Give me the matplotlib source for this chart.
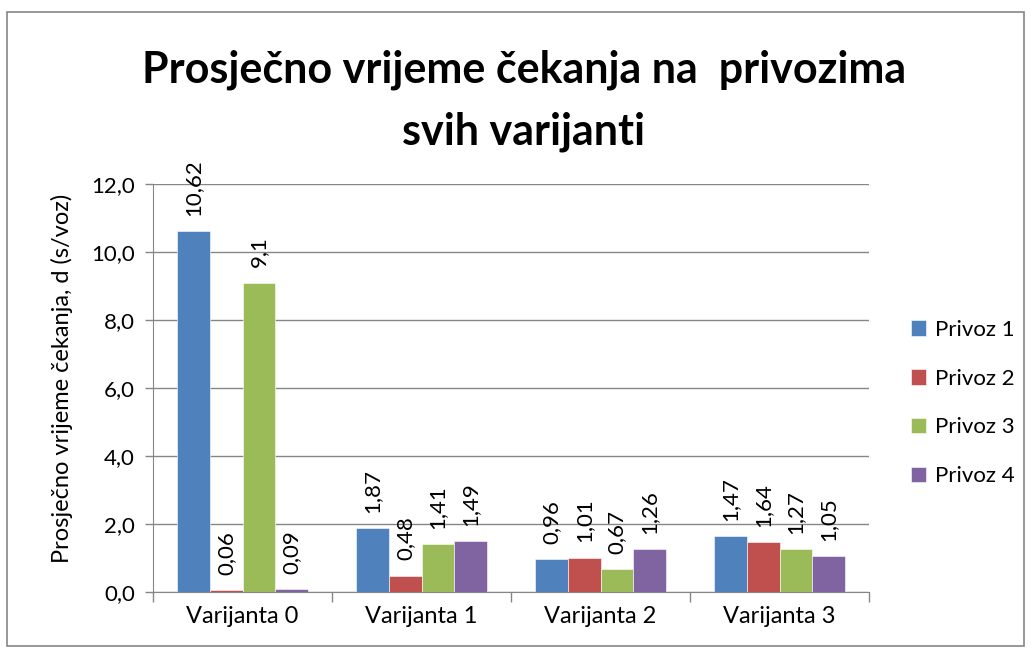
import numpy as np
import matplotlib.pyplot as plt
from matplotlib.patches import Rectangle

plt.rcParams['font.family'] = ['Lato', 'DejaVu Sans']

varijante = ['Varijanta 0', 'Varijanta 1', 'Varijanta 2', 'Varijanta 3']
privozi = ['Privoz 1', 'Privoz 2', 'Privoz 3', 'Privoz 4']
boje = ['#4F81BD', '#C0504D', '#9BBB59', '#8064A2']

# visine stupaca (ocitano sa slike)
privoz1 = [10.62, 1.87, 0.96, 1.64]
privoz2 = [0.06, 0.48, 1.01, 1.47]
privoz3 = [9.1, 1.41, 0.67, 1.27]
privoz4 = [0.09, 1.49, 1.26, 1.05]

# oznake podataka kako pisu na slici
oznake1 = ['10,62', '1,87', '0,96', '1,47']
oznake2 = ['0,06', '0,48', '1,01', '1,64']
oznake3 = ['9,1', '1,41', '0,67', '1,27']
oznake4 = ['0,09', '1,49', '1,26', '1,05']

serije = [privoz1, privoz2, privoz3, privoz4]
oznake = [oznake1, oznake2, oznake3, oznake4]

fig = plt.figure(figsize=(10.31, 6.49), dpi=100)
ax = fig.add_axes([153/1031, 1 - 592/649, (869 - 153)/1031, (592 - 184)/649])

x = np.arange(len(varijante))
w = 1 / 5.5
for i, (vals, labs) in enumerate(zip(serije, oznake)):
    pos = x + (i - 1.5) * w
    ax.bar(pos, vals, w, color=boje[i], label=privozi[i], zorder=3,
           edgecolor='white', linewidth=0.4)
    for px, v, t in zip(pos, vals, labs):
        ax.annotate(t, (px, v), xytext=(0, 11), textcoords='offset points',
                    rotation=90, ha='center', va='bottom', fontsize=16)

grey = '#868686'
ax.set_ylim(0, 12)
ax.set_xlim(-0.5, 3.5)
ax.set_yticks(np.arange(0, 12.1, 2))
ax.set_yticklabels([f'{v:.1f}'.replace('.', ',') for v in np.arange(0, 12.1, 2)])
ax.yaxis.grid(True, color=grey, linewidth=1, zorder=0)
ax.set_xticks(np.arange(-0.5, 3.6, 1))
ax.set_xticklabels([])
ax.set_xticks(x, minor=True)
ax.set_xticklabels(varijante, minor=True)
ax.tick_params(axis='x', which='major', length=7, color=grey, width=1)
ax.tick_params(axis='x', which='minor', length=0, pad=10, labelsize=17)
ax.tick_params(axis='y', length=6, color=grey, width=1, labelsize=16, pad=7)
for s in ['top', 'right']:
    ax.spines[s].set_visible(False)
for s in ['left', 'bottom']:
    ax.spines[s].set_color(grey)

fig.text(62/1031, 1 - 378/649, 'Prosječno vrijeme čekanja, d (s/voz)', rotation=90,
         ha='center', va='center', fontsize=17)

fig.text(0.508, 1 - 83/649, 'Prosječno vrijeme čekanja na  privozima',
         ha='center', va='baseline', fontsize=31, fontweight='bold')
fig.text(0.508, 1 - 145/649, 'svih varijanti',
         ha='center', va='baseline', fontsize=31, fontweight='bold')

fig.legend(loc='center left', bbox_to_anchor=(0.864, 0.379), frameon=False,
           fontsize=16, labelspacing=1.3, handlelength=0.7, handleheight=0.7,
           handletextpad=0.4)

fig.patches.append(Rectangle((7/1031, 3/649), 1017/1031, 634/649, transform=fig.transFigure,
                             fill=False, edgecolor=grey, linewidth=1.2))

fig.savefig('out.png', dpi=100)
